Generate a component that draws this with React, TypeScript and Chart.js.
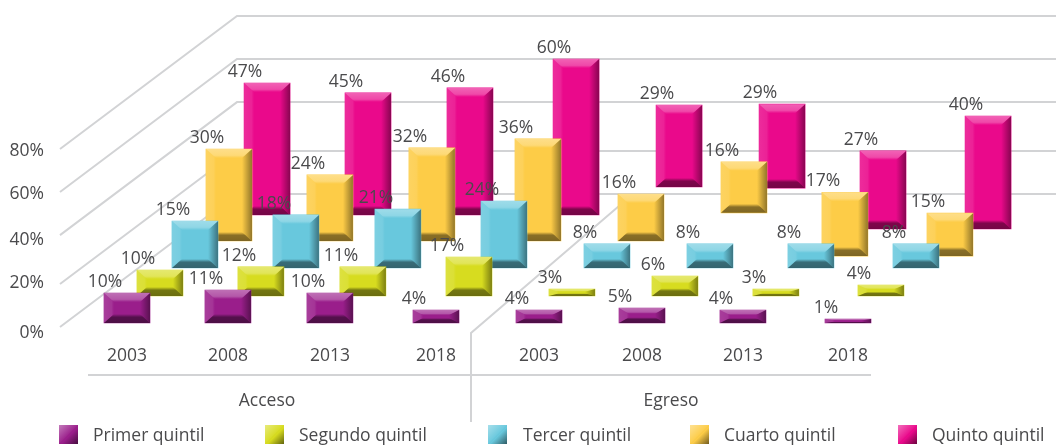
import React, { useEffect, useRef } from "react";
import { Chart, registerables } from "chart.js";

Chart.register(...registerables);

// ---- data ----
const years = ["2003", "2008", "2013", "2018", "2003", "2008", "2013", "2018"];
const groups = ["Acceso", "Egreso"];
const seriesNames = ["Primer quintil", "Segundo quintil", "Tercer quintil", "Cuarto quintil", "Quinto quintil"];

// printed percentages
const primerPrinted = [10, 11, 10, 4, 4, 5, 4, 1];
const segundoPrinted = [10, 12, 11, 17, 3, 6, 3, 4];
const tercerPrinted = [15, 18, 21, 24, 8, 8, 8, 8];
const cuartoPrinted = [30, 24, 32, 36, 16, 16, 17, 15];
const quintoPrinted = [47, 45, 46, 60, 29, 29, 27, 40];

// bar lengths as actually drawn in the picture
const primerDrawn = [10, 11, 10, 4.3, 4.3, 5, 4.3, 1.3];
const segundoDrawn = [10, 11.2, 11.2, 15, 2.7, 7.7, 2.7, 4.2];
const tercerDrawn = [16.2, 18.3, 20.3, 23.1, 8.3, 8.3, 8.3, 8.3];
const cuartoDrawn = [31.7, 22.8, 32.1, 35.2, 16.2, 17.6, 22, 14.8];
const quintoDrawn = [48, 44.4, 46.2, 56.7, 29.8, 30.5, 28.4, 41.1];

// how far the bar floats off its series floor in the picture
const primerLift = [0, 0, 0, 0, 0, 0, 0, 0];
const segundoLift = [0, 0, 0, 0, 0, 0, 0, 0];
const tercerLift = [0, 0, 0, 0, 0, 0, 0, 0];
const cuartoLift = [0, 0, 0, 0, 0, 9.7, -5.2, -5.2];
const quintoLift = [0, 0, 0, 0, 10.2, 9.8, -5.1, -5.1];

const categorySlots = [0, 0.98, 1.97, 3, 4, 5, 5.98, 7];
const gridValues = [0, 19.3, 41.3, 60.7, 80];
const axisTickPlaces = [-2.8, 19.6, 38.9, 59.6, 79];
const axisTickLabels = ["0%", "20%", "40%", "60%", "80%"];

// ---- layout & style ----
const W = 1056;
const H = 445;
const AREA_LEFT = 50;
const AREA_BOTTOM = 340;
const SLOT_PX = 103;
const FIRST_CENTER = 127;
const Y_PX = 2.225;
const Y_ZERO = 327;
const FONT = "'Open Sans', Lato, sans-serif";
const FONT_SIZE = 17.5;
const TEXT = "#4a4a4c";
const GRID = "#d2d3d5";

const seriesShift = [0, 0.32, 0.66, 0.99, 1.36];
const seriesFloor = [323, 296, 268, 241, 215];
const seriesScale = [3, 2.6, 2.9, 2.9, 2.75];
const seriesColor = ["#9a1e8b", "#d7dc1f", "#68c8dd", "#fdcc47", "#ea098b"];
const legendSwatchX = [59, 265, 488, 690, 898];
const legendTextX = [93, 299, 523, 724, 932];

const printed = [primerPrinted, segundoPrinted, tercerPrinted, cuartoPrinted, quintoPrinted];
const drawn = [primerDrawn, segundoDrawn, tercerDrawn, cuartoDrawn, quintoDrawn];
const lift = [primerLift, segundoLift, tercerLift, cuartoLift, quintoLift];

const seriesAxes: any = {};
seriesNames.forEach((_, s) => {
  seriesAxes[`s${s}`] = {
    type: "linear",
    display: false,
    position: "left",
    min: -(AREA_BOTTOM - seriesFloor[s]) / seriesScale[s],
    max: seriesFloor[s] / seriesScale[s],
  };
});

const bevelPlugin = {
  id: "bevel",
  afterDatasetDraw(chart: any, args: any) {
    const { ctx } = chart;
    const meta = chart.getDatasetMeta(args.index);
    meta.data.forEach((el: any) => {
      const w = el.width;
      const x0 = el.x - w / 2;
      const x1 = el.x + w / 2;
      const y0 = Math.min(el.y, el.base);
      const y1 = Math.max(el.y, el.base);
      const b = Math.min(9, (y1 - y0) / 2.6);
      const side = 10;
      const poly = (pts: number[][], fill: any) => {
        ctx.beginPath();
        pts.forEach((p, i) => (i ? ctx.lineTo(p[0], p[1]) : ctx.moveTo(p[0], p[1])));
        ctx.closePath();
        ctx.fillStyle = fill;
        ctx.fill();
      };
      ctx.save();
      const l = ctx.createLinearGradient(x0, 0, x0 + side, 0);
      l.addColorStop(0, "rgba(255,255,255,0.14)");
      l.addColorStop(0.75, "rgba(255,255,255,0.1)");
      l.addColorStop(1, "rgba(255,255,255,0)");
      poly([[x0, y0], [x0 + side, y0 + b], [x0 + side, y1 - b], [x0, y1]], l);
      const r = ctx.createLinearGradient(x1 - side, 0, x1, 0);
      r.addColorStop(0, "rgba(0,0,0,0)");
      r.addColorStop(1, "rgba(0,0,0,0.42)");
      poly([[x1, y0], [x1 - side, y0 + b], [x1 - side, y1 - b], [x1, y1]], r);
      const t = ctx.createLinearGradient(0, y0, 0, y0 + b);
      t.addColorStop(0, "rgba(255,255,255,0.36)");
      t.addColorStop(0.7, "rgba(255,255,255,0.26)");
      t.addColorStop(1, "rgba(255,255,255,0)");
      poly([[x0, y0], [x1, y0], [x1 - side, y0 + b], [x0 + side, y0 + b]], t);
      const d = ctx.createLinearGradient(0, y1 - b, 0, y1);
      d.addColorStop(0, "rgba(0,0,0,0)");
      d.addColorStop(0.35, "rgba(0,0,0,0.46)");
      d.addColorStop(1, "rgba(0,0,0,0.5)");
      poly([[x0, y1], [x1, y1], [x1 - side, y1 - b], [x0 + side, y1 - b]], d);
      ctx.restore();
    });
  },
};

const wallPlugin = {
  id: "walls",
  beforeDatasetsDraw(chart: any) {
    const { ctx } = chart;
    const y = chart.scales.y;
    ctx.save();
    ctx.strokeStyle = GRID;
    ctx.lineWidth = 2;
    ctx.lineJoin = "miter";
    gridValues.forEach((v) => {
      const py = y.getPixelForValue(v);
      ctx.beginPath();
      ctx.moveTo(60, py);
      ctx.lineTo(237, py - 133);
      ctx.lineTo(W, py - 133);
      ctx.stroke();
    });
    ctx.beginPath();
    ctx.moveTo(471, 422);
    ctx.lineTo(471, 333);
    ctx.lineTo(633, 194);
    ctx.stroke();
    ctx.beginPath();
    ctx.moveTo(88, 375);
    ctx.lineTo(871, 375);
    ctx.stroke();
    ctx.restore();
  },
};

const textPlugin = {
  id: "texts",
  afterDatasetsDraw(chart: any) {
    const { ctx } = chart;
    ctx.save();
    ctx.font = `${FONT_SIZE}px ${FONT}`;
    ctx.fillStyle = TEXT;
    ctx.textBaseline = "middle";
    ctx.textAlign = "center";
    // value labels
    chart.data.datasets.forEach((ds: any, s: number) => {
      const meta = chart.getDatasetMeta(s);
      meta.data.forEach((el: any, i: number) => {
        ctx.fillText(`${ds.printed[i]}%`, el.x - el.width / 2 + 1, el.y - 11);
      });
    });
    // group labels
    ctx.fillText(groups[0], 267, 401);
    ctx.fillText(groups[1], 671, 401);
    // legend
    seriesNames.forEach((name, s) => {
      const sx = legendSwatchX[s];
      ctx.fillStyle = seriesColor[s];
      ctx.fillRect(sx, 425, 19, 19);
      const lg = ctx.createLinearGradient(sx, 425, sx + 19, 444);
      lg.addColorStop(0, "rgba(255,255,255,0.42)");
      lg.addColorStop(0.48, "rgba(255,255,255,0.05)");
      lg.addColorStop(0.55, "rgba(0,0,0,0)");
      lg.addColorStop(1, "rgba(0,0,0,0.55)");
      ctx.fillStyle = lg;
      ctx.fillRect(sx, 425, 19, 19);
      ctx.fillStyle = TEXT;
      ctx.textAlign = "left";
      ctx.fillText(name, legendTextX[s], 436);
    });
    ctx.restore();
  },
};

export default function App() {
  const ref = useRef<HTMLCanvasElement | null>(null);
  useEffect(() => {
    if (!ref.current) return;
    const chart = new Chart(ref.current, {
      type: "bar",
      data: {
        datasets: seriesNames.map((name, s) => ({
          label: name,
          xAxisID: "x",
          yAxisID: `s${s}`,
          printed: printed[s],
          backgroundColor: seriesColor[s],
          borderWidth: 0,
          grouped: false,
          barThickness: 46,
          data: categorySlots.map((slot, i) => ({
            x: slot + seriesShift[s],
            y: [lift[s][i], lift[s][i] + drawn[s][i]],
          })),
        })),
      } as any,
      options: {
        animation: false,
        responsive: false,
        devicePixelRatio: 1,
        layout: { padding: 0 },
        plugins: { legend: { display: false }, tooltip: { enabled: false }, title: { display: false } },
        scales: {
          x: {
            type: "linear",
            offset: false,
            min: (AREA_LEFT - FIRST_CENTER) / SLOT_PX,
            max: (W - FIRST_CENTER) / SLOT_PX,
            grid: { display: false },
            border: { display: false },
            afterBuildTicks(scale: any) {
              scale.ticks = categorySlots.map((value) => ({ value }));
            },
            afterFit(scale: any) {
              scale.height = H - AREA_BOTTOM;
              scale.paddingLeft = 0;
              scale.paddingRight = 0;
            },
            ticks: {
              autoSkip: false,
              maxRotation: 0,
              padding: -2,
              color: TEXT,
              font: { family: FONT, size: FONT_SIZE },
              callback: (_v: any, i: number) => years[i],
            },
          },
          y: {
            type: "linear",
            position: "left",
            min: (Y_ZERO - AREA_BOTTOM) / Y_PX,
            max: Y_ZERO / Y_PX,
            grid: { display: false, drawTicks: false },
            border: { display: false },
            afterBuildTicks(scale: any) {
              scale.ticks = axisTickPlaces.map((value) => ({ value }));
            },
            afterFit(scale: any) {
              scale.width = AREA_LEFT;
              scale.paddingTop = 0;
              scale.paddingBottom = 0;
            },
            ticks: {
              autoSkip: false,
              padding: 6,
              color: TEXT,
              font: { family: FONT, size: FONT_SIZE },
              callback: (_v: any, i: number) => axisTickLabels[i],
            },
          },
          ...seriesAxes,
        },
      } as any,
      plugins: [wallPlugin, bevelPlugin, textPlugin],
    });
    return () => chart.destroy();
  }, []);
  return (
    <canvas
      ref={ref}
      width={W}
      height={H}
      style={{ position: "absolute", left: 0, top: 0, display: "block" }}
    />
  );
}
